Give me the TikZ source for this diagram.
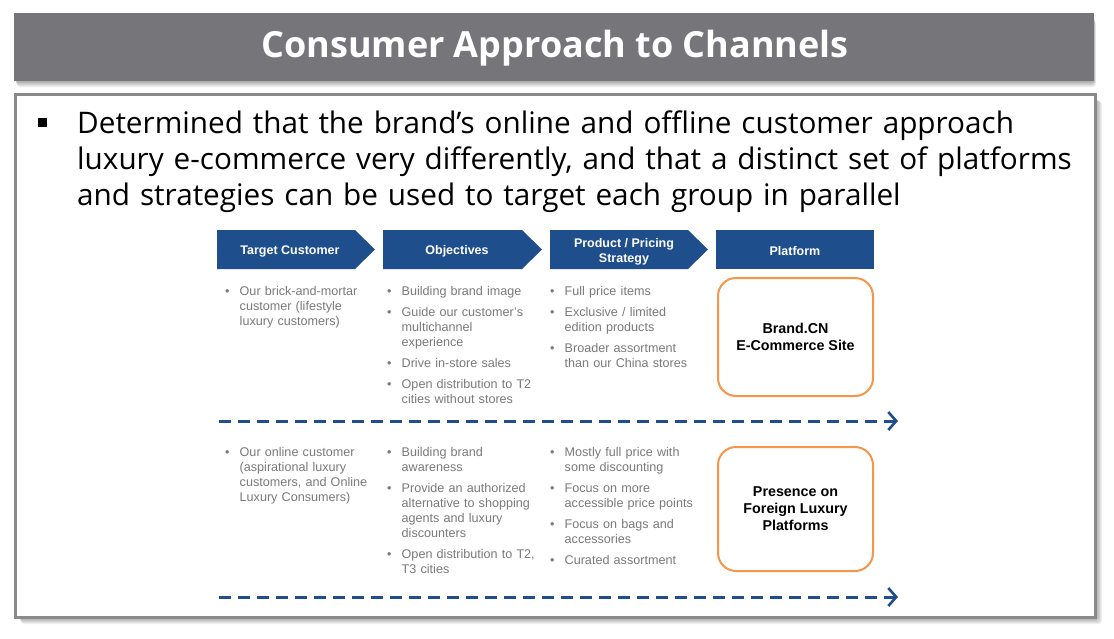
\documentclass[tikz,border=0pt]{standalone}
\usepackage{fontspec}
\setmainfont{Open Sans}
\newfontfamily\chartfont{Liberation Sans}
\usetikzlibrary{arrows.meta}
\definecolor{hdrgray}{HTML}{76757A}
\definecolor{navy}{HTML}{1F4E8C}
\definecolor{txtgray}{HTML}{7A7A7A}
\definecolor{boxorange}{HTML}{F5964A}
\definecolor{framegray}{HTML}{8A8A8A}
\newcommand{\bitem}[1]{\hangindent=14.5pt\hangafter=1\noindent\makebox[14.5pt][l]{\textbullet}#1\par}
\tikzset{
  chevlabel/.style={font=\chartfont\bfseries\fontsize{12.5}{15}\selectfont, text=white, align=center, inner sep=0pt},
  bullcol/.style={font=\chartfont\fontsize{12.6}{15}\selectfont, text=txtgray, text width=170pt, inner sep=0pt, anchor=base west, execute at begin node={\setlength{\parskip}{6pt}}},
  platbox/.style={draw=boxorange, line width=2pt, rounded corners=18pt, minimum width=155pt, font=\chartfont\bfseries\fontsize{14.3}{17}\selectfont, align=center},
  flowarrow/.style={navy, line width=3pt, dash pattern=on 12pt off 7pt, -{Straight Barb[length=8pt,width=18pt,line width=2.6pt]}},
  shadowlayer/.style={fill=black, fill opacity=0.06, rounded corners=3pt}
}
\begin{document}
\begin{tikzpicture}[x=1pt,y=-1pt]
\useasboundingbox (0,0) rectangle (1114,638);
\fill[white] (0,0) rectangle (1114,638);
% header shadow
\foreach \s in {1,2,...,6} {\fill[shadowlayer] (14+\s*0.5,15+\s) rectangle (1094+\s*0.3,81+\s);}
\fill[hdrgray] (14,13) rectangle (1094,81);
\node[font=\bfseries\fontsize{36}{40}\selectfont, text=white] (title) at (555,48.5) {Consumer Approach to Channels};
% body frame shadow
\foreach \s in {1,2,...,6} {\fill[shadowlayer] (18+\s*0.5,98+\s*0.5) rectangle (1096+\s,618+\s);}
\draw[framegray, line width=3pt, fill=white] (15.5,94.5) rectangle (1095.5,617.5);
% intro bullet
\node[fill=black, minimum size=9pt, inner sep=0pt] (sq) at (42.5,122) {};
\node[anchor=base west, text width=1010pt, inner sep=0pt, font=\fontsize{29.7}{36}\selectfont, align=left] (intro) at (77,133)
{Determined that the brand’s online and offline customer approach\\ luxury e-commerce very differently, and that a distinct set of platforms\\ and strategies can be used to target each group in parallel};
% chevrons
\fill[navy] (217,230) -- (355,230) -- (375,249.5) -- (355,269) -- (217,269) -- cycle;
\fill[navy] (383,230) -- (522,230) -- (542,249.5) -- (522,269) -- (383,269) -- cycle;
\fill[navy] (550,230) -- (688,230) -- (708,249.5) -- (688,269) -- (550,269) -- cycle;
\fill[navy] (716,230) rectangle (874,269);
\node[chevlabel] (h1) at (290,251) {Target Customer};
\node[chevlabel] (h2) at (457,251) {Objectives};
\node[chevlabel] (h3) at (624,251.5) {Product / Pricing\\Strategy};
\node[chevlabel] (h4) at (795,251) {Platform};
% row 1
\node[bullcol] (r1c1) at (225,295.5) {\bitem{Our brick-and-mortar\newline customer (lifestyle\newline luxury customers)}};
\node[bullcol] (r1c2) at (387,295.5) {\bitem{Building brand image}\bitem{Guide our customer’s\newline multichannel\newline experience}\bitem{Drive in-store sales}\bitem{Open distribution to T2\newline cities without stores}};
\node[bullcol] (r1c3) at (550,295.5) {\bitem{Full price items}\bitem{Exclusive / limited\newline edition products}\bitem{Broader assortment\newline than our China stores}};
\node[platbox, minimum height=118pt] (p1) at (795.5,337) {Brand.CN\\E-Commerce Site};
\coordinate (a1s) at (219,421);
\coordinate (a1e) at (898,421);
\draw[flowarrow] (a1s) -- (a1e);
% row 2
\node[bullcol] (r2c1) at (225,456.5) {\bitem{Our online customer\newline (aspirational luxury\newline customers, and Online\newline Luxury Consumers)}};
\node[bullcol] (r2c2) at (387,456.5) {\bitem{Building brand\newline awareness}\bitem{Provide an authorized\newline alternative to shopping\newline agents and luxury\newline discounters}\bitem{Open distribution to T2,\newline T3 cities}};
\node[bullcol] (r2c3) at (550,456.5) {\bitem{Mostly full price with\newline some discounting}\bitem{Focus on more\newline accessible price points}\bitem{Focus on bags and\newline accessories}\bitem{Curated assortment}};
\node[platbox, minimum height=124pt] (p2) at (795.5,509) {Presence on\\Foreign Luxury\\Platforms};
\coordinate (a2s) at (219,597);
\coordinate (a2e) at (898,597);
\draw[flowarrow] (a2s) -- (a2e);
\end{tikzpicture}
\end{document}
